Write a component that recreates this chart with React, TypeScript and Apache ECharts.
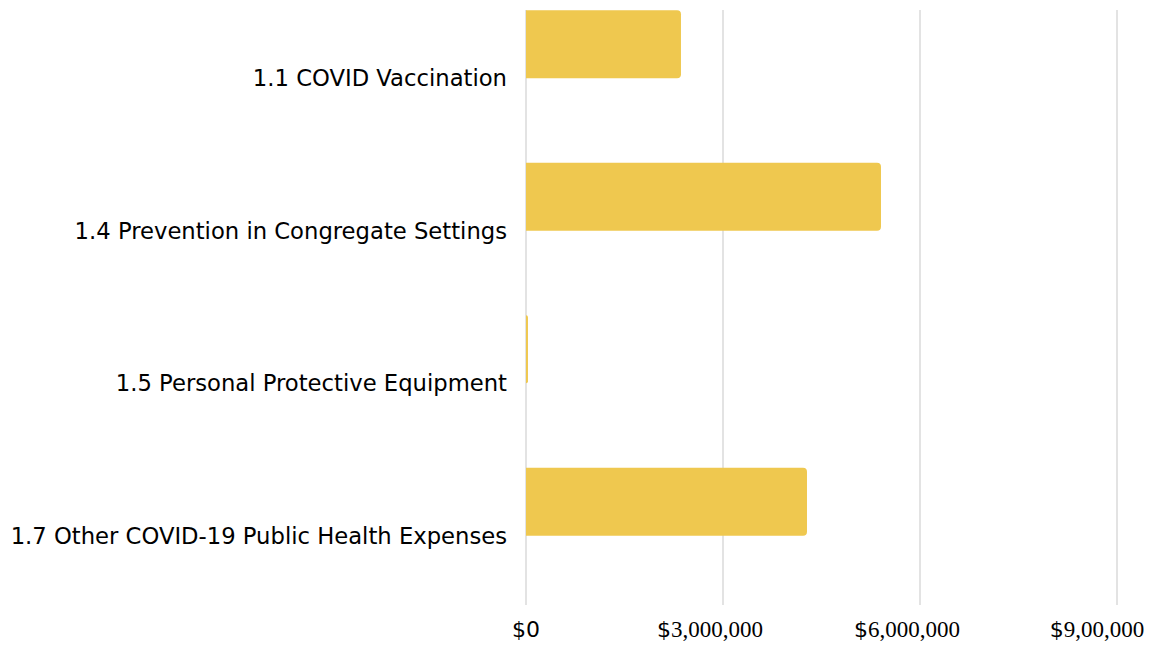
import React, { useEffect, useRef } from "react";
import * as echarts from "echarts";

const categories = [
  "1.1 COVID Vaccination",
  "1.4 Prevention in Congregate Settings",
  "1.5 Personal Protective Equipment",
  "1.7 Other COVID-19 Public Health Expenses",
];
const spending = [2360000, 5406000, 30000, 4279000];
const tickValues = [0, 3000000, 6000000, 9000000];
const tickLabels = ["$0", "$3,000,000", "$6,000,000", "$9,00,000"];

const BAR_COLOR = "#EFC84F";
const GRID_COLOR = "#DADADA";
const SANS = "DejaVu Sans";
const SERIF = "Liberation Serif";

export default function App() {
  const ref = useRef<HTMLDivElement>(null);
  useEffect(() => {
    if (!ref.current) return;
    const chart = echarts.init(ref.current, undefined, { renderer: "svg" });
    const xMax = tickValues[tickValues.length - 1];
    const interval = tickValues[1] - tickValues[0];
    chart.setOption({
      animation: false,
      backgroundColor: "#ffffff",
      grid: [
        { left: 526, right: 35, top: 10, bottom: 40 },
        { left: 526, right: 35, top: 2, bottom: 33 },
      ],
      xAxis: [
        {
          gridIndex: 0,
          type: "value",
          min: 0,
          max: xMax,
          interval,
          axisLine: { show: false },
          axisTick: { show: false },
          splitLine: { show: true, lineStyle: { color: GRID_COLOR, width: 1.5 } },
          axisLabel: {
            margin: 13,
            formatter: (v: number) => {
              const i = tickValues.indexOf(v);
              const t = i >= 0 ? tickLabels[i] : "";
              if (t === "$0") return "{z|$0}";
              const pad = i === tickValues.length - 1 ? "p9" : "p";
              return "{s|$}{" + pad + "|" + t.slice(1) + "}";
            },
            rich: {
              z: { fontFamily: SANS, fontSize: 22, color: "#000" },
              s: { fontFamily: SANS, fontSize: 22, color: "#000" },
              p: { fontFamily: SERIF, fontSize: 23, color: "#000", padding: [0, 26, 0, 0] },
              p9: { fontFamily: SERIF, fontSize: 23, color: "#000", padding: [0, 40, 0, 0] },
            },
          },
        },
        {
          gridIndex: 1,
          type: "value",
          min: 0,
          max: xMax,
          interval,
          show: false,
          splitLine: { show: false },
        },
      ],
      yAxis: [
        {
          gridIndex: 0,
          type: "category",
          data: categories,
          show: false,
        },
        {
          gridIndex: 1,
          type: "category",
          data: categories,
          inverse: true,
          axisLine: { show: false },
          axisTick: { show: false },
          splitLine: { show: false },
          axisLabel: {
            margin: 19,
            fontFamily: SANS,
            fontSize: 22.7,
            color: "#000",
            padding: [4, 0, 0, 0],
          },
        },
      ],
      series: [
        {
          type: "bar",
          name: "Spending",
          xAxisIndex: 1,
          yAxisIndex: 1,
          data: spending,
          barWidth: 68,
          barGap: "0%",
          itemStyle: { color: BAR_COLOR, borderRadius: [0, 4, 4, 0] },
        },
        {
          type: "bar",
          name: "spacer",
          xAxisIndex: 1,
          yAxisIndex: 1,
          data: categories.map(() => null),
          barWidth: 68,
          barGap: "0%",
          itemStyle: { color: BAR_COLOR },
        },
      ],
    });
    return () => chart.dispose();
  }, []);
  return <div ref={ref} style={{ width: 1152, height: 645, position: "absolute", left: 0, top: 0 }} />;
}
